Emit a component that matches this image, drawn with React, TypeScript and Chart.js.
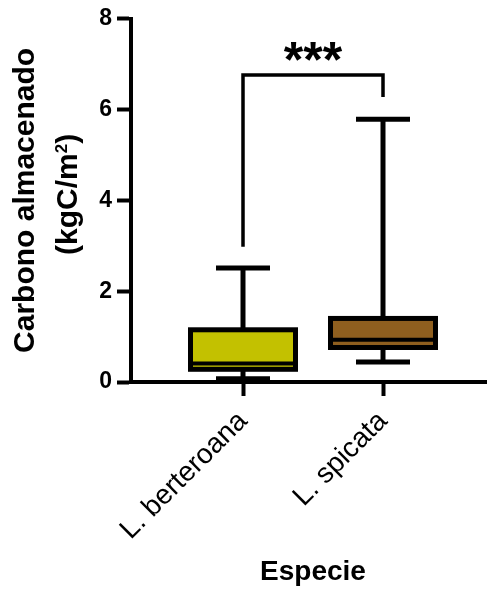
import { useEffect, useRef } from 'react';
import { Chart, registerables } from 'chart.js';

Chart.register(...registerables);

const categories = ['L. berteroana', 'L. spicata'];
const minValues = [0.07, 0.44];
const q1Values = [0.28, 0.76];
const medianValues = [0.41, 0.93];
const q3Values = [1.15, 1.4];
const maxValues = [2.51, 5.79];
const boxColors = ['#c3c100', '#8f5f1f'];
const yTicks = [0, 2, 4, 6, 8];
const bracketTop = 6.76;
const bracketLeftEnd = 2.98;
const bracketRightEnd = 6.28;
const significance = '***';
const yTitleLine1 = 'Carbono almacenado';
const yTitleLine2Main = '(kgC/m';
const yTitleLine2Sup = '2';
const yTitleLine2End = ')';
const xTitle = 'Especie';

const FONT = '"Liberation Sans", Arial, sans-serif';

const boxPlugin = {
  id: 'boxExtras',
  afterDatasetsDraw(chart: any) {
    const ctx = chart.ctx as CanvasRenderingContext2D;
    const ys = chart.scales.y;
    const xs = chart.scales.x;
    const meta = chart.getDatasetMeta(0);
    const line = (x1: number, y1: number, x2: number, y2: number) => {
      ctx.beginPath();
      ctx.moveTo(x1, y1);
      ctx.lineTo(x2, y2);
      ctx.stroke();
    };
    ctx.save();
    ctx.strokeStyle = '#000';
    ctx.lineCap = 'butt';
    meta.data.forEach((bar: any, i: number) => {
      const { x: cx, width } = bar.getProps(['x', 'width'], true);
      const left = cx - width / 2;
      const right = cx + width / 2;
      const yMin = ys.getPixelForValue(minValues[i]);
      const yQ1 = ys.getPixelForValue(q1Values[i]);
      const yMed = ys.getPixelForValue(medianValues[i]);
      const yQ3 = ys.getPixelForValue(q3Values[i]);
      const yMax = ys.getPixelForValue(maxValues[i]);
      ctx.lineWidth = 5;
      line(cx, yQ3, cx, yMax);
      line(cx, yQ1, cx, yMin);
      const capHalf = 27;
      line(cx - capHalf, yMax, cx + capHalf, yMax);
      line(cx - capHalf, yMin, cx + capHalf, yMin);
      ctx.strokeRect(left, yQ3, width, yQ1 - yQ3);
      ctx.lineWidth = 4;
      line(left, yMed, right, yMed);
    });
    // significance bracket
    const x1 = xs.getPixelForValue(1);
    const x2 = xs.getPixelForValue(2);
    const yT = ys.getPixelForValue(bracketTop);
    const yL = ys.getPixelForValue(bracketLeftEnd);
    const yR = ys.getPixelForValue(bracketRightEnd);
    ctx.lineWidth = 3.5;
    ctx.lineJoin = 'miter';
    ctx.beginPath();
    ctx.moveTo(x1, yL);
    ctx.lineTo(x1, yT);
    ctx.lineTo(x2, yT);
    ctx.lineTo(x2, yR);
    ctx.stroke();
    ctx.fillStyle = '#000';
    ctx.font = `bold 50px ${FONT}`;
    ctx.textAlign = 'center';
    ctx.textBaseline = 'alphabetic';
    ctx.fillText(significance, (x1 + x2) / 2, yT + 2);
    ctx.restore();
  },
  afterDraw(chart: any) {
    const ctx = chart.ctx as CanvasRenderingContext2D;
    const area = chart.chartArea;
    ctx.save();
    ctx.fillStyle = '#000';
    // x title
    ctx.font = `bold 28px ${FONT}`;
    ctx.textAlign = 'center';
    ctx.textBaseline = 'alphabetic';
    ctx.fillText(xTitle, (area.left + area.right) / 2 + 4, 580);
    // y title
    const cy = (area.top + area.bottom) / 2;
    ctx.save();
    ctx.translate(34, cy);
    ctx.rotate(-Math.PI / 2);
    ctx.font = `bold 30px ${FONT}`;
    ctx.textAlign = 'center';
    ctx.fillText(yTitleLine1, 0, 0);
    ctx.restore();
    ctx.save();
    ctx.translate(77, cy - 6);
    ctx.rotate(-Math.PI / 2);
    ctx.textAlign = 'left';
    ctx.font = `bold 30px ${FONT}`;
    const wMain = ctx.measureText(yTitleLine2Main).width;
    const wEnd = ctx.measureText(yTitleLine2End).width;
    ctx.font = `bold 17px ${FONT}`;
    const wSup = ctx.measureText(yTitleLine2Sup).width;
    const total = wMain + wSup + wEnd;
    let px = -total / 2;
    ctx.font = `bold 30px ${FONT}`;
    ctx.fillText(yTitleLine2Main, px, 0);
    px += wMain;
    ctx.font = `bold 17px ${FONT}`;
    ctx.fillText(yTitleLine2Sup, px, -10);
    px += wSup;
    ctx.font = `bold 30px ${FONT}`;
    ctx.fillText(yTitleLine2End, px, 0);
    ctx.restore();
    ctx.restore();
  },
};

export default function App() {
  const ref = useRef<HTMLCanvasElement | null>(null);
  useEffect(() => {
    document.body.style.margin = '0';
    if (!ref.current) return;
    const chart = new Chart(ref.current, {
      type: 'bar',
      data: {
        datasets: [
          {
            data: categories.map((_, i) => ({ x: i + 1, y: [q1Values[i], q3Values[i]] })) as any,
            backgroundColor: boxColors,
            borderWidth: 0,
            barThickness: 105,
          },
        ],
      },
      options: {
        animation: false,
        responsive: false,
        devicePixelRatio: 1,
        layout: { padding: { left: 0, right: 0, top: 0, bottom: 0 } },
        plugins: {
          legend: { display: false },
          tooltip: { enabled: false },
        },
        scales: {
          x: {
            type: 'linear',
            offset: false,
            min: 0.2,
            max: 0.2 + 356 / 140,
            afterBuildTicks: (scale: any) => {
              scale.ticks = categories.map((_, i) => ({ value: i + 1 }));
            },
            afterFit: (scale: any) => {
              scale.height = 207;
            },
            ticks: {
              autoSkip: false,
              minRotation: 45,
              maxRotation: 45,
              padding: 9,
              color: '#000',
              font: { family: FONT, size: 28 },
              callback: (v: any) => categories[Number(v) - 1] ?? '',
            },
            grid: {
              offset: false,
              drawOnChartArea: false,
              drawTicks: true,
              tickLength: 14,
              tickWidth: 4,
              tickColor: '#000',
            },
            border: { display: true, color: '#000', width: 4 },
          },
          y: {
            type: 'linear',
            min: 0,
            max: 8,
            afterBuildTicks: (scale: any) => {
              scale.ticks = yTicks.map((v) => ({ value: v }));
            },
            afterFit: (scale: any) => {
              scale.width = 131;
            },
            ticks: {
              padding: 5,
              color: '#000',
              font: { family: FONT, size: 23, weight: 'bold' },
            },
            grid: {
              drawOnChartArea: false,
              drawTicks: true,
              tickLength: 14,
              tickWidth: 4,
              tickColor: '#000',
            },
            border: { display: true, color: '#000', width: 4 },
          },
        },
      } as any,
      plugins: [boxPlugin],
    });
    return () => chart.destroy();
  }, []);
  return (
    <div style={{ width: 487, height: 589 }}>
      <canvas ref={ref} width={487} height={589} style={{ display: 'block' }} />
    </div>
  );
}
